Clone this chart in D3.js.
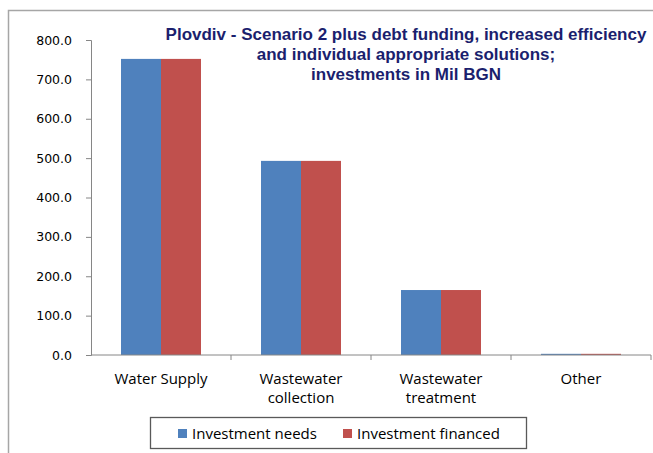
<!DOCTYPE html>
<html>
<head>
<meta charset="utf-8">
<script src="https://cdn.jsdelivr.net/npm/d3@7"></script>
<style>
  body { margin: 0; background: #fff; }
  svg { display: block; }
  .tick-label { font-family: "DejaVu Sans", Verdana, sans-serif; font-size: 12.5px; fill: #000; }
  .cat-label { font-family: "Open Sans", Calibri, sans-serif; font-size: 15px; fill: #000; }
  .legend-label { font-family: "Open Sans", Calibri, sans-serif; font-size: 15px; fill: #000; }
  .title { font-family: "Liberation Sans", Arial, sans-serif; font-size: 17px; font-weight: bold; fill: #1b1f6e; }
</style>
</head>
<body>
<div id="chart"></div>
<script>
const categories = [['Water Supply'], ['Wastewater', 'collection'], ['Wastewater', 'treatment'], ['Other']];
const seriesNames = ['Investment needs', 'Investment financed'];
const investmentNeeds = [752, 493, 165, 3];
const investmentFinanced = [752, 493, 165, 3];
const yTicks = [0, 100, 200, 300, 400, 500, 600, 700, 800];
const titleLines = ['Plovdiv - Scenario 2 plus debt funding, increased efficiency',
                    'and individual appropriate solutions;',
                    'investments  in Mil BGN'];
const colors = ['#4f81bd', '#c0504d'];

const width = 653, height = 453;
const margin = { top: 40, left: 91, bottom: 98, right: 2 };

const svg = d3.select('#chart').append('svg')
    .attr('width', width)
    .attr('height', height);

// outer chart frame (runs off the right and bottom edges)
svg.append('path')
    .attr('d', `M8.5,${height + 5}V10.5H${width + 5}`)
    .attr('fill', 'none')
    .attr('stroke', '#a6a6a6')
    .attr('stroke-width', 1.5);

const catKeys = categories.map(c => c.join(' '));

const x0 = d3.scaleBand()
    .domain(catKeys)
    .range([margin.left, width - margin.right]);

const x1 = d3.scaleBand()
    .domain(seriesNames)
    .range([30, x0.bandwidth() - 30]);

const y = d3.scaleLinear()
    .domain([0, 800])
    .range([height - margin.bottom, margin.top]);

const rows = catKeys.map((k, i) => ({ key: k, values: [investmentNeeds[i], investmentFinanced[i]] }));

// bars
const groups = svg.append('g').selectAll('g')
    .data(rows)
    .join('g')
    .attr('transform', d => `translate(${x0(d.key)},0)`);

groups.selectAll('rect')
    .data(d => d.values.map((v, i) => ({ name: seriesNames[i], value: v, i })))
    .join('rect')
    .attr('x', d => x1(d.name))
    .attr('width', x1.bandwidth())
    .attr('y', d => y(d.value))
    .attr('height', d => y(0) - y(d.value))
    .attr('fill', d => colors[d.i]);

// y axis
const yAxis = d3.axisLeft(y)
    .tickValues(yTicks)
    .tickSize(5)
    .tickPadding(14)
    .tickFormat(d3.format('.1f'));

const yG = svg.append('g')
    .attr('transform', `translate(${margin.left},0)`)
    .call(yAxis);
yG.select('.domain').attr('stroke', '#868686');
yG.selectAll('.tick line').attr('stroke', '#868686');
yG.selectAll('.tick text').attr('class', 'tick-label').attr('font-family', null).attr('font-size', null);

// x axis line and category ticks
const xG = svg.append('g');
xG.append('line')
    .attr('x1', margin.left).attr('x2', width - margin.right)
    .attr('y1', y(0)).attr('y2', y(0))
    .attr('stroke', '#868686');
xG.selectAll('.xtick')
    .data(catKeys)
    .join('line')
    .attr('class', 'xtick')
    .attr('x1', d => x0(d) + x0.bandwidth())
    .attr('x2', d => x0(d) + x0.bandwidth())
    .attr('y1', y(0)).attr('y2', y(0) + 5)
    .attr('stroke', '#868686');

const catText = svg.append('g').selectAll('text')
    .data(categories)
    .join('text')
    .attr('class', 'cat-label')
    .attr('text-anchor', 'middle')
    .attr('x', d => x0(d.join(' ')) + x0.bandwidth() / 2)
    .attr('y', y(0) + 29);
catText.selectAll('tspan')
    .data(d => d)
    .join('tspan')
    .attr('x', function () { return d3.select(this.parentNode).attr('x'); })
    .attr('dy', (d, i) => i === 0 ? 0 : 19)
    .text(d => d);

// title
svg.append('text')
    .attr('class', 'title')
    .attr('text-anchor', 'middle')
    .selectAll('tspan')
    .data(titleLines)
    .join('tspan')
    .attr('x', 406)
    .attr('y', (d, i) => 40 + i * 20)
    .text(d => d);

// legend
const legend = svg.append('g');
legend.append('rect')
    .attr('x', 150.5).attr('y', 417.5)
    .attr('width', 376).attr('height', 31)
    .attr('fill', '#fff')
    .attr('stroke', '#595959')
    .attr('stroke-width', 1.3);

const legendX = [178, 343];
const items = legend.selectAll('g.item')
    .data(seriesNames)
    .join('g')
    .attr('class', 'item')
    .attr('transform', (d, i) => `translate(${legendX[i]},429)`);
items.append('rect')
    .attr('width', 9).attr('height', 9)
    .attr('fill', (d, i) => colors[i]);
items.append('text')
    .attr('class', 'legend-label')
    .attr('x', 14).attr('y', 10)
    .text(d => d);
</script>
</body>
</html>
